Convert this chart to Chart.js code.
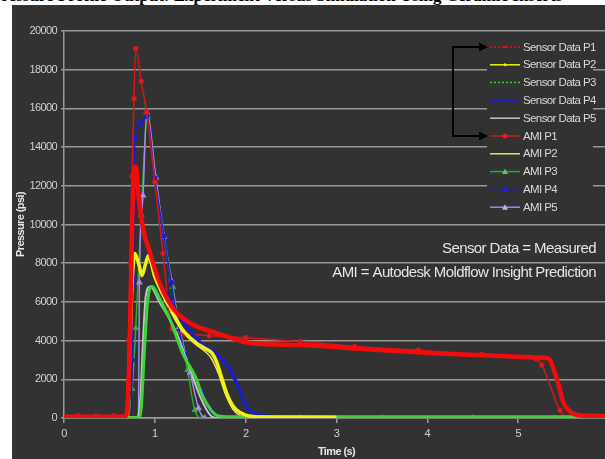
<!DOCTYPE html>
<html lang="en">
<head>
<meta charset="UTF-8">
<title>Pressure profile</title>
<script src="https://cdn.jsdelivr.net/npm/chart.js@4"></script>
<style>
  body { margin:0; width:605px; height:459px; overflow:hidden; background:#fff; position:relative; }
  #title { position:absolute; left:-9px; top:-13px; white-space:nowrap; font:bold 17px/17px "Liberation Serif", serif; color:#000; }
  #panel { position:absolute; left:12px; top:5px; width:613px; height:454px; background:#323232; }
</style>
</head>
<body>
<div id="title">Pressure Profile Output: Experiment Versus Simulation Using Ceramic Inserts</div>
<div id="panel"><canvas id="chart" width="613" height="454"></canvas></div>
<script>
// time (s) and pressure (psi)
const sensorP1T = [0, 0.3, 0.68, 0.72, 0.75, 0.77, 0.79, 0.82, 0.87, 0.95, 1.04, 1.19, 1.37, 1.68, 2.05, 2.6, 3.3, 4.03, 4.7, 5.2, 5.33, 5.43, 5.5, 5.58, 5.65, 5.8, 6.0];
const sensorP1 = [60, 70, 80, 3000, 10000, 12800, 13000, 11500, 9800, 8500, 7130, 5740, 4960, 4390, 3880, 3770, 3560, 3360, 3230, 3130, 3080, 1960, 775, 300, 155, 110, 100];

const amiP1T = [0, 0.15, 0.35, 0.55, 0.68, 0.71, 0.73, 0.75, 0.77, 0.79, 0.85, 0.91, 1.0, 1.09, 1.19, 1.33, 1.6, 2.0, 2.6, 3.2, 3.9, 4.6, 5.2, 5.26, 5.46, 5.55, 5.8, 6.0];
const amiP1 = [0, 100, 100, 100, 100, 4000, 8000, 12500, 16500, 19100, 17400, 15800, 12200, 8500, 4600, 4340, 4250, 4150, 3950, 3700, 3500, 3280, 3050, 2740, 400, 0, 0, 0];

const sensorP2T = [0, 0.3, 0.69, 0.72, 0.75, 0.78, 0.82, 0.86, 0.9, 0.93, 1.0, 1.15, 1.3, 1.45, 1.55, 1.63, 1.68, 1.72, 1.79, 1.85, 1.9, 2.0, 2.2, 3.0];
const sensorP2 = [40, 50, 60, 3000, 7000, 8500, 8000, 7400, 8000, 8400, 7300, 5900, 4600, 3900, 3600, 3350, 2900, 2330, 1290, 700, 410, 150, 50, 40];

const amiP2T = [0, 0.4, 0.7, 0.73, 0.76, 0.78, 0.82, 0.86, 0.9, 0.93, 1.0, 1.15, 1.3, 1.45, 1.55, 1.62, 1.7, 1.78, 1.86, 1.95, 2.1];
const amiP2 = [0, 0, 0, 3500, 7300, 8300, 7800, 7300, 7900, 8200, 7200, 5700, 4500, 3800, 3450, 3100, 2300, 1200, 450, 100, 0];

const sensorP3T = [0, 0.3, 0.82, 0.85, 0.88, 0.92, 0.97, 1.06, 1.17, 1.31, 1.44, 1.53, 1.62, 1.7, 1.8, 2.5, 3.5, 4.5, 5.5, 6.0];
const sensorP3 = [30, 30, 30, 500, 3000, 6000, 6800, 6100, 5060, 3300, 2200, 1100, 400, 100, 60, 60, 60, 60, 60, 60];

const amiP3T = [0, 0.4, 0.7, 0.75, 0.79, 0.85, 0.92, 1.01, 1.1, 1.2, 1.28, 1.36, 1.44, 1.52, 2.0, 2.7, 3.5, 4.5, 5.4, 6.0];
const amiP3 = [0, 0, 0, 1500, 4650, 10500, 15600, 12400, 9460, 6770, 4440, 2480, 410, 0, 0, 0, 0, 0, 0, 0];

const sensorP4T = [0, 0.3, 0.69, 0.72, 0.75, 0.78, 0.83, 0.87, 0.93, 1.0, 1.1, 1.2, 1.35, 1.5, 1.64, 1.75, 1.83, 1.92, 2.01, 2.16, 2.4, 3.5, 5.3];
const sensorP4 = [0, 0, 50, 2500, 6500, 8300, 7800, 7600, 8500, 7600, 6600, 5800, 4700, 3900, 3450, 3000, 2500, 1600, 570, 150, 60, 20, 20];

const amiP4T = [0, 0.5, 0.74, 0.75, 0.76, 0.77, 0.78, 0.84, 0.91, 1.0, 1.1, 1.18, 1.25, 1.33, 1.42, 1.52, 1.62, 1.7, 2.0, 2.5];
const amiP4 = [0, 0, 0, 3000, 7000, 11000, 14500, 15200, 15600, 12400, 9400, 7000, 5000, 3300, 2300, 1300, 400, 50, 0, 0];

const sensorP5T = [0, 0.3, 0.8, 0.84, 0.87, 0.9, 0.95, 1.05, 1.15, 1.24, 1.39, 1.5, 1.61, 1.7, 2.5];
const sensorP5 = [0, 0, 0, 1000, 4000, 6300, 6800, 6000, 5200, 4390, 2480, 1090, 150, 0, 0];

const amiP5T = [0, 0.5, 0.82, 0.83, 0.87, 0.91, 1.01, 1.1, 1.18, 1.27, 1.39, 1.48, 1.55, 2.0, 2.6];
const amiP5 = [0, 0, 0, 7000, 11500, 15800, 12450, 9350, 7100, 4700, 2330, 520, 0, 0, 0];

const xTicks = [0, 1, 2, 3, 4, 5, 6];
const yMax = 20000, yStep = 2000;

const sans = '"Liberation Sans", Arial, sans-serif';
const gridGrey = '#999999';

function pts(ts, vs) { return ts.map((t, i) => ({x: t, y: vs[i]})); }

// dense sensor traces are thick, simulation traces thin with markers
const datasets = [
  {label: 'Sensor Data P1', data: pts(sensorP1T, sensorP1), borderColor: '#f20d0d', borderWidth: 4.5, legendDash: [2, 2], legendMarker: 'dot'},
  {label: 'Sensor Data P2', data: pts(sensorP2T, sensorP2), borderColor: '#f2f20f', borderWidth: 3.5, legendMarker: 'dot'},
  {label: 'Sensor Data P3', data: pts(sensorP3T, sensorP3), borderColor: '#3fd33a', borderWidth: 3, legendDash: [2, 2]},
  {label: 'Sensor Data P4', data: pts(sensorP4T, sensorP4), borderColor: '#1c1cc8', borderWidth: 3.5},
  {label: 'Sensor Data P5', data: pts(sensorP5T, sensorP5), borderColor: '#c4c4cc', borderWidth: 2},
  {label: 'AMI P1', data: pts(amiP1T, amiP1), borderColor: '#d41818', backgroundColor: '#e02020', borderWidth: 1.5, pointRadius: 2, pointStyle: 'circle', legendMarker: 'circle'},
  {label: 'AMI P2', data: pts(amiP2T, amiP2), borderColor: '#e8e070', borderWidth: 1.5},
  {label: 'AMI P3', data: pts(amiP3T, amiP3), borderColor: '#2fa82f', backgroundColor: '#5ac85a', borderWidth: 1.5, pointRadius: 2.5, pointStyle: 'triangle', legendMarker: 'triangle', order: 1},
  {label: 'AMI P4', data: pts(amiP4T, amiP4), borderColor: '#1a1ad0', backgroundColor: '#2020e0', borderWidth: 1.5, pointRadius: 2, pointStyle: 'circle', legendMarker: 'circle'},
  {label: 'AMI P5', data: pts(amiP5T, amiP5), borderColor: '#a58ae0', backgroundColor: '#c0b0f0', borderWidth: 1.5, pointRadius: 2.5, pointStyle: 'triangle', legendMarker: 'triangle'}
];

function marker(ctx, kind, x, y, color) {
  ctx.fillStyle = color;
  ctx.beginPath();
  if (kind === 'triangle') {
    ctx.moveTo(x, y - 3); ctx.lineTo(x + 3, y + 2.5); ctx.lineTo(x - 3, y + 2.5); ctx.closePath();
  } else {
    ctx.arc(x, y, kind === 'dot' ? 1.5 : 2.5, 0, Math.PI * 2);
  }
  ctx.fill();
}

// legend box, bracket arrow and the two notes
const overlay = {
  id: 'overlay',
  beforeLayout(chart) { chart.ctx.letterSpacing = '-0.6px'; },
  beforeDraw(chart) { chart.ctx.letterSpacing = '-0.6px'; },
  afterDatasetsDraw(chart) {
    const ctx = chart.ctx;
    ctx.save();
    ctx.fillStyle = '#323232';
    ctx.fillRect(475, 32, 106, 179);

    ctx.font = '11.5px ' + sans;
    ctx.textBaseline = 'middle';
    chart.data.datasets.forEach((ds, i) => {
      const y = 42 + i * 17.8;
      ctx.strokeStyle = ds.borderColor;
      ctx.lineWidth = 1.5;
      ctx.setLineDash(ds.legendDash || []);
      ctx.beginPath(); ctx.moveTo(478, y); ctx.lineTo(508, y); ctx.stroke();
      ctx.setLineDash([]);
      if (ds.legendMarker) marker(ctx, ds.legendMarker, 493, y, ds.backgroundColor || ds.borderColor);
      ctx.fillStyle = '#d8d8d8';
      ctx.fillText(ds.label, 511, y + 0.5);
    });

    // bracket tying sensor P1 to AMI P1
    ctx.strokeStyle = '#000';
    ctx.fillStyle = '#000';
    ctx.lineWidth = 2;
    ctx.beginPath();
    ctx.moveTo(469, 42); ctx.lineTo(441, 42); ctx.lineTo(441, 131); ctx.lineTo(469, 131);
    ctx.stroke();
    [42, 131].forEach(y => {
      ctx.beginPath(); ctx.moveTo(476, y); ctx.lineTo(467, y - 4.5); ctx.lineTo(467, y + 4.5); ctx.closePath(); ctx.fill();
    });

    ctx.fillStyle = '#e4e4e4';
    ctx.textAlign = 'right';
    ctx.font = '15px ' + sans;
    ctx.fillText('Sensor Data = Measured', 584, 244);
    ctx.fillText('AMI = Autodesk Moldflow Insight Prediction', 584, 268);
    ctx.restore();
  }
};

new Chart(document.getElementById('chart'), {
  type: 'line',
  data: {datasets},
  plugins: [overlay],
  options: {
    responsive: false,
    animation: false,
    layout: {padding: {top: 26, right: 16, left: 0, bottom: 0}},
    plugins: {legend: {display: false}, tooltip: {enabled: false}},
    elements: {
      line: {cubicInterpolationMode: 'monotone', fill: false},
      point: {radius: 0}
    },
    scales: {
      x: {
        type: 'linear', min: 0, max: 6,
        afterBuildTicks: s => { s.ticks = xTicks.map(v => ({value: v})); },
        ticks: {color: '#d0d0d0', font: {family: sans, size: 11}, padding: 4, maxRotation: 0, callback: v => String(v)},
        grid: {drawOnChartArea: false, tickLength: 5, color: gridGrey, lineWidth: 1.5},
        border: {color: gridGrey, width: 1.5},
        title: {display: true, text: 'Time (s)', color: '#e6e6e6', font: {family: sans, size: 11, weight: 'bold'}, padding: {top: 0, bottom: 0}},
        afterFit: s => { s.height = 41; }
      },
      y: {
        min: 0, max: yMax,
        ticks: {stepSize: yStep, color: '#d0d0d0', font: {family: sans, size: 11}, padding: 4, callback: v => String(v)},
        grid: {color: gridGrey, lineWidth: 1.5, tickLength: 3},
        border: {color: gridGrey, width: 1.5},
        title: {display: true, text: 'Pressure (psi)', color: '#e6e6e6', font: {family: sans, size: 11, weight: 'bold'}, padding: {top: 2, bottom: 0}},
        afterFit: s => { s.width = 52; }
      }
    }
  }
});
</script>
</body>
</html>
